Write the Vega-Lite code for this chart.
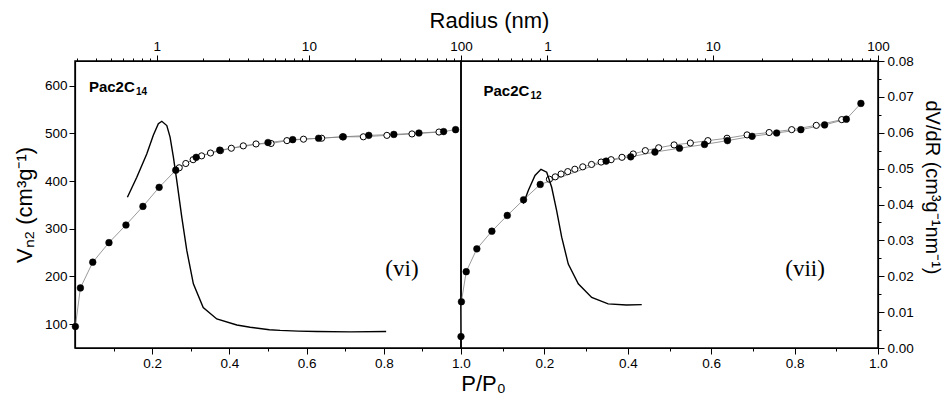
{
  "$schema": "https://vega.github.io/schema/vega-lite/v6.json",
  "background": "white",
  "padding": {"left": 12, "top": 8, "right": 2, "bottom": 2},
  "spacing": 0,
  "bounds": "flush",
  "resolve": {"scale": {"x": "independent", "y": "independent"}, "axis": {"x": "independent", "y": "independent"}},
  "datasets": {
    "iso": [
      {"panel": "L", "branch": "ads", "p": 0.001, "v": 95},
      {"panel": "L", "branch": "ads", "p": 0.014, "v": 176},
      {"panel": "L", "branch": "ads", "p": 0.046, "v": 230},
      {"panel": "L", "branch": "ads", "p": 0.088, "v": 271},
      {"panel": "L", "branch": "ads", "p": 0.132, "v": 308},
      {"panel": "L", "branch": "ads", "p": 0.176, "v": 347},
      {"panel": "L", "branch": "ads", "p": 0.218, "v": 387},
      {"panel": "L", "branch": "ads", "p": 0.261, "v": 423},
      {"panel": "L", "branch": "ads", "p": 0.314, "v": 450},
      {"panel": "L", "branch": "ads", "p": 0.375, "v": 465},
      {"panel": "L", "branch": "ads", "p": 0.500, "v": 481},
      {"panel": "L", "branch": "ads", "p": 0.564, "v": 487},
      {"panel": "L", "branch": "ads", "p": 0.631, "v": 490},
      {"panel": "L", "branch": "ads", "p": 0.695, "v": 493},
      {"panel": "L", "branch": "ads", "p": 0.761, "v": 496},
      {"panel": "L", "branch": "ads", "p": 0.826, "v": 498},
      {"panel": "L", "branch": "ads", "p": 0.891, "v": 501},
      {"panel": "L", "branch": "ads", "p": 0.955, "v": 504},
      {"panel": "L", "branch": "ads", "p": 0.986, "v": 508},
      {"panel": "L", "branch": "des", "p": 0.270, "v": 428},
      {"panel": "L", "branch": "des", "p": 0.287, "v": 437},
      {"panel": "L", "branch": "des", "p": 0.306, "v": 445},
      {"panel": "L", "branch": "des", "p": 0.328, "v": 453},
      {"panel": "L", "branch": "des", "p": 0.351, "v": 459},
      {"panel": "L", "branch": "des", "p": 0.377, "v": 464},
      {"panel": "L", "branch": "des", "p": 0.405, "v": 469},
      {"panel": "L", "branch": "des", "p": 0.436, "v": 474},
      {"panel": "L", "branch": "des", "p": 0.469, "v": 478},
      {"panel": "L", "branch": "des", "p": 0.508, "v": 479},
      {"panel": "L", "branch": "des", "p": 0.549, "v": 485},
      {"panel": "L", "branch": "des", "p": 0.592, "v": 488},
      {"panel": "L", "branch": "des", "p": 0.639, "v": 490},
      {"panel": "L", "branch": "des", "p": 0.693, "v": 493},
      {"panel": "L", "branch": "des", "p": 0.747, "v": 493},
      {"panel": "L", "branch": "des", "p": 0.808, "v": 496},
      {"panel": "L", "branch": "des", "p": 0.873, "v": 499},
      {"panel": "L", "branch": "des", "p": 0.943, "v": 503},
      {"panel": "R", "branch": "ads", "p": 0.000, "v": 74},
      {"panel": "R", "branch": "ads", "p": 0.001, "v": 147},
      {"panel": "R", "branch": "ads", "p": 0.0125, "v": 210},
      {"panel": "R", "branch": "ads", "p": 0.038, "v": 258},
      {"panel": "R", "branch": "ads", "p": 0.074, "v": 295},
      {"panel": "R", "branch": "ads", "p": 0.111, "v": 328},
      {"panel": "R", "branch": "ads", "p": 0.150, "v": 361},
      {"panel": "R", "branch": "ads", "p": 0.190, "v": 393},
      {"panel": "R", "branch": "ads", "p": 0.348, "v": 442},
      {"panel": "R", "branch": "ads", "p": 0.407, "v": 451},
      {"panel": "R", "branch": "ads", "p": 0.465, "v": 461},
      {"panel": "R", "branch": "ads", "p": 0.524, "v": 469},
      {"panel": "R", "branch": "ads", "p": 0.584, "v": 477},
      {"panel": "R", "branch": "ads", "p": 0.639, "v": 485},
      {"panel": "R", "branch": "ads", "p": 0.698, "v": 494},
      {"panel": "R", "branch": "ads", "p": 0.757, "v": 501},
      {"panel": "R", "branch": "ads", "p": 0.815, "v": 508},
      {"panel": "R", "branch": "ads", "p": 0.872, "v": 518},
      {"panel": "R", "branch": "ads", "p": 0.924, "v": 530},
      {"panel": "R", "branch": "ads", "p": 0.959, "v": 563},
      {"panel": "R", "branch": "des", "p": 0.212, "v": 404},
      {"panel": "R", "branch": "des", "p": 0.226, "v": 409},
      {"panel": "R", "branch": "des", "p": 0.240, "v": 415},
      {"panel": "R", "branch": "des", "p": 0.256, "v": 420},
      {"panel": "R", "branch": "des", "p": 0.273, "v": 425},
      {"panel": "R", "branch": "des", "p": 0.292, "v": 430},
      {"panel": "R", "branch": "des", "p": 0.313, "v": 435},
      {"panel": "R", "branch": "des", "p": 0.336, "v": 440},
      {"panel": "R", "branch": "des", "p": 0.360, "v": 445},
      {"panel": "R", "branch": "des", "p": 0.386, "v": 450},
      {"panel": "R", "branch": "des", "p": 0.413, "v": 457},
      {"panel": "R", "branch": "des", "p": 0.442, "v": 464},
      {"panel": "R", "branch": "des", "p": 0.474, "v": 470},
      {"panel": "R", "branch": "des", "p": 0.511, "v": 476},
      {"panel": "R", "branch": "des", "p": 0.550, "v": 480},
      {"panel": "R", "branch": "des", "p": 0.592, "v": 485},
      {"panel": "R", "branch": "des", "p": 0.638, "v": 490},
      {"panel": "R", "branch": "des", "p": 0.686, "v": 497},
      {"panel": "R", "branch": "des", "p": 0.739, "v": 502},
      {"panel": "R", "branch": "des", "p": 0.793, "v": 508},
      {"panel": "R", "branch": "des", "p": 0.852, "v": 517},
      {"panel": "R", "branch": "des", "p": 0.913, "v": 529}
    ],
    "psd": [
      {"panel": "L", "r": 0.641, "d": 0.0420},
      {"panel": "L", "r": 0.739, "d": 0.0476},
      {"panel": "L", "r": 0.859, "d": 0.0541},
      {"panel": "L", "r": 0.949, "d": 0.0593},
      {"panel": "L", "r": 1.024, "d": 0.0625},
      {"panel": "L", "r": 1.079, "d": 0.0632},
      {"panel": "L", "r": 1.164, "d": 0.0620},
      {"panel": "L", "r": 1.223, "d": 0.0588},
      {"panel": "L", "r": 1.286, "d": 0.0532},
      {"panel": "L", "r": 1.353, "d": 0.0467},
      {"panel": "L", "r": 1.460, "d": 0.0365},
      {"panel": "L", "r": 1.575, "d": 0.0272},
      {"panel": "L", "r": 1.740, "d": 0.0179},
      {"panel": "L", "r": 2.02, "d": 0.0113},
      {"panel": "L", "r": 2.48, "d": 0.0081},
      {"panel": "L", "r": 3.36, "d": 0.0064},
      {"panel": "L", "r": 4.11, "d": 0.0058},
      {"panel": "L", "r": 5.50, "d": 0.0051},
      {"panel": "L", "r": 6.47, "d": 0.0049},
      {"panel": "L", "r": 8.5, "d": 0.0047},
      {"panel": "L", "r": 11.3, "d": 0.0046},
      {"panel": "L", "r": 18.7, "d": 0.0045},
      {"panel": "L", "r": 32.2, "d": 0.0046},
      {"panel": "R", "r": 0.715, "d": 0.0402},
      {"panel": "R", "r": 0.766, "d": 0.0439},
      {"panel": "R", "r": 0.841, "d": 0.0481},
      {"panel": "R", "r": 0.914, "d": 0.0498},
      {"panel": "R", "r": 0.99, "d": 0.0490},
      {"panel": "R", "r": 1.061, "d": 0.0448},
      {"panel": "R", "r": 1.137, "d": 0.0383},
      {"panel": "R", "r": 1.22, "d": 0.0309},
      {"panel": "R", "r": 1.337, "d": 0.0234},
      {"panel": "R", "r": 1.537, "d": 0.0179},
      {"panel": "R", "r": 1.853, "d": 0.0141},
      {"panel": "R", "r": 2.33, "d": 0.0123},
      {"panel": "R", "r": 3.01, "d": 0.0120},
      {"panel": "R", "r": 3.72, "d": 0.0121}
    ]
  },
  "hconcat": [
    {
      "width": 386,
      "height": 287,
      "layer": [
        {
          "layer": [
            {
              "data": {"name": "iso"},
              "transform": [{"filter": "datum.panel == 'L'"}],
              "mark": {"type": "line", "color": "#808080", "strokeWidth": 0.8},
              "encoding": {
                "x": {"field": "p", "type": "quantitative", "scale": {"domain": [0, 1], "nice": false, "zero": false},
                  "axis": {"orient": "bottom", "values": [0.1, 0.2, 0.3, 0.4, 0.5, 0.6, 0.7, 0.8, 0.9, 1.0],
                    "labelExpr": "round(datum.value*10) % 2 == 0 ? format(datum.value, '.1f') : ''",
                    "tickSize": {"condition": {"test": "round(datum.value*10) % 2 == 0", "value": 6}, "value": 3},
                    "labelPadding": 2, "labelFlush": false, "labelOverlap": false, "labelBound": false,
                    "title": "P/P₀", "titleX": 408, "titleFontSize": 22, "titlePadding": 4}},
                "y": {"field": "v", "type": "quantitative", "scale": {"domain": [50, 652], "nice": false, "zero": false},
                  "axis": {"orient": "left", "values": [100, 200, 300, 400, 500, 600],
                    "format": "d", "tickSize": 6, "labelPadding": 2, "labelFlush": false, "labelOverlap": false,
                    "title": "Vₙ₂ (cm³g⁻¹)", "titleFontSize": 22, "titlePadding": 8}},
                "detail": {"field": "branch"}
              }
            },
            {
              "data": {"name": "iso"},
              "transform": [{"filter": "datum.panel == 'L' && datum.branch == 'des'"}],
              "mark": {"type": "point", "shape": "circle", "filled": true, "fill": "white", "stroke": "black", "strokeWidth": 1, "size": 38, "opacity": 1},
              "encoding": {"x": {"field": "p", "type": "quantitative"}, "y": {"field": "v", "type": "quantitative"}}
            },
            {
              "data": {"name": "iso"},
              "transform": [{"filter": "datum.panel == 'L' && datum.branch == 'ads'"}],
              "mark": {"type": "point", "shape": "circle", "filled": true, "fill": "black", "stroke": "black", "strokeWidth": 0.5, "size": 45, "opacity": 1},
              "encoding": {"x": {"field": "p", "type": "quantitative"}, "y": {"field": "v", "type": "quantitative"}}
            },
            {
              "data": {"values": [{"p": 0.036, "v": 598, "t": "Pac2C"}]},
              "mark": {"type": "text", "align": "left", "baseline": "middle", "font": "Liberation Sans", "fontWeight": "bold", "fontSize": 15, "color": "black"},
              "encoding": {"x": {"field": "p", "type": "quantitative"}, "y": {"field": "v", "type": "quantitative"}, "text": {"field": "t"}}
            },
            {
              "data": {"values": [{"p": 0.036, "v": 598, "t": "14"}]},
              "mark": {"type": "text", "align": "left", "baseline": "middle", "dx": 47, "dy": 5, "font": "Liberation Sans", "fontWeight": "bold", "fontSize": 10, "color": "black"},
              "encoding": {"x": {"field": "p", "type": "quantitative"}, "y": {"field": "v", "type": "quantitative"}, "text": {"field": "t"}}
            },
            {
              "data": {"values": [{"p": 0.847, "v": 216, "t": "(vi)"}]},
              "mark": {"type": "text", "align": "center", "baseline": "middle", "font": "Liberation Serif", "fontSize": 23, "color": "black"},
              "encoding": {"x": {"field": "p", "type": "quantitative"}, "y": {"field": "v", "type": "quantitative"}, "text": {"field": "t"}}
            }
          ]
        },
        {
          "data": {"name": "psd"},
          "transform": [{"filter": "datum.panel == 'L'"}],
          "mark": {"type": "line", "color": "black", "strokeWidth": 1.4},
          "encoding": {
            "x": {"field": "r", "type": "quantitative", "scale": {"type": "log", "domain": [0.29, 100], "nice": false},
              "axis": {"orient": "top", "values": [0.3, 0.4, 0.5, 0.6, 0.7, 0.8, 0.9, 1, 2, 3, 4, 5, 6, 7, 8, 9, 10, 20, 30, 40, 50, 60, 70, 80, 90, 100],
                "labelExpr": "(datum.value == 1 || datum.value == 10 || datum.value == 100) ? format(datum.value, 'd') : ''",
                "tickSize": {"condition": {"test": "datum.value == 1 || datum.value == 10 || datum.value == 100", "value": 6}, "value": 3},
                "labelPadding": 2, "labelFlush": false, "labelOverlap": false, "labelBound": false,
                "title": "Radius (nm)", "titleX": 414, "titleFontSize": 22, "titlePadding": 7}},
            "y": {"field": "d", "type": "quantitative", "scale": {"domain": [0, 0.08], "nice": false}, "axis": null}
          }
        }
      ],
      "resolve": {"scale": {"x": "independent", "y": "independent"}, "axis": {"x": "independent", "y": "independent"}}
    },
    {
      "width": 417,
      "height": 287,
      "layer": [
        {
          "layer": [
            {
              "data": {"name": "iso"},
              "transform": [{"filter": "datum.panel == 'R'"}],
              "mark": {"type": "line", "color": "#808080", "strokeWidth": 0.8},
              "encoding": {
                "x": {"field": "p", "type": "quantitative", "scale": {"domain": [0, 1], "nice": false, "zero": false},
                  "axis": {"orient": "bottom", "values": [0.1, 0.2, 0.3, 0.4, 0.5, 0.6, 0.7, 0.8, 0.9, 1.0],
                    "labelExpr": "round(datum.value*10) % 2 == 0 ? format(datum.value, '.1f') : ''",
                    "tickSize": {"condition": {"test": "round(datum.value*10) % 2 == 0", "value": 6}, "value": 3},
                    "labelPadding": 2, "labelFlush": false, "labelOverlap": false, "labelBound": false, "title": null}},
                "y": {"field": "v", "type": "quantitative", "scale": {"domain": [50, 652], "nice": false, "zero": false}, "axis": null},
                "detail": {"field": "branch"}
              }
            },
            {
              "data": {"name": "iso"},
              "transform": [{"filter": "datum.panel == 'R' && datum.branch == 'des'"}],
              "mark": {"type": "point", "shape": "circle", "filled": true, "fill": "white", "stroke": "black", "strokeWidth": 1, "size": 38, "opacity": 1},
              "encoding": {"x": {"field": "p", "type": "quantitative"}, "y": {"field": "v", "type": "quantitative"}}
            },
            {
              "data": {"name": "iso"},
              "transform": [{"filter": "datum.panel == 'R' && datum.branch == 'ads'"}],
              "mark": {"type": "point", "shape": "circle", "filled": true, "fill": "black", "stroke": "black", "strokeWidth": 0.5, "size": 45, "opacity": 1},
              "encoding": {"x": {"field": "p", "type": "quantitative"}, "y": {"field": "v", "type": "quantitative"}}
            },
            {
              "data": {"values": [{"p": 0.054, "v": 590, "t": "Pac2C"}]},
              "mark": {"type": "text", "align": "left", "baseline": "middle", "font": "Liberation Sans", "fontWeight": "bold", "fontSize": 15, "color": "black"},
              "encoding": {"x": {"field": "p", "type": "quantitative"}, "y": {"field": "v", "type": "quantitative"}, "text": {"field": "t"}}
            },
            {
              "data": {"values": [{"p": 0.054, "v": 590, "t": "12"}]},
              "mark": {"type": "text", "align": "left", "baseline": "middle", "dx": 47, "dy": 5, "font": "Liberation Sans", "fontWeight": "bold", "fontSize": 10, "color": "black"},
              "encoding": {"x": {"field": "p", "type": "quantitative"}, "y": {"field": "v", "type": "quantitative"}, "text": {"field": "t"}}
            },
            {
              "data": {"values": [{"p": 0.825, "v": 216, "t": "(vii)"}]},
              "mark": {"type": "text", "align": "center", "baseline": "middle", "font": "Liberation Serif", "fontSize": 23, "color": "black"},
              "encoding": {"x": {"field": "p", "type": "quantitative"}, "y": {"field": "v", "type": "quantitative"}, "text": {"field": "t"}}
            }
          ]
        },
        {
          "data": {"name": "psd"},
          "transform": [{"filter": "datum.panel == 'R'"}],
          "mark": {"type": "line", "color": "black", "strokeWidth": 1.4},
          "encoding": {
            "x": {"field": "r", "type": "quantitative", "scale": {"type": "log", "domain": [0.3, 100], "nice": false},
              "axis": {"orient": "top", "values": [0.4, 0.5, 0.6, 0.7, 0.8, 0.9, 1, 2, 3, 4, 5, 6, 7, 8, 9, 10, 20, 30, 40, 50, 60, 70, 80, 90, 100],
                "labelExpr": "(datum.value == 1 || datum.value == 10 || datum.value == 100) ? format(datum.value, 'd') : ''",
                "tickSize": {"condition": {"test": "datum.value == 1 || datum.value == 10 || datum.value == 100", "value": 6}, "value": 3},
                "labelPadding": 2, "labelFlush": false, "labelOverlap": false, "labelBound": false, "title": null}},
            "y": {"field": "d", "type": "quantitative", "scale": {"domain": [0, 0.08], "nice": false},
              "axis": {"orient": "right", "values": [0, 0.005, 0.01, 0.015, 0.02, 0.025, 0.03, 0.035, 0.04, 0.045, 0.05, 0.055, 0.06, 0.065, 0.07, 0.075, 0.08],
                "labelExpr": "abs(datum.value*100 - round(datum.value*100)) < 0.001 ? format(datum.value, '.2f') : ''",
                "tickSize": {"condition": {"test": "abs(datum.value*100 - round(datum.value*100)) < 0.001", "value": 6}, "value": 3},
                "labelPadding": 3, "labelFlush": false, "labelOverlap": false,
                "title": "dV/dR (cm³g⁻¹nm⁻¹)", "titleFontSize": 20, "titlePadding": 8, "titleY": 126}}
          }
        }
      ],
      "resolve": {"scale": {"x": "independent", "y": "independent"}, "axis": {"x": "independent", "y": "independent"}}
    }
  ],
  "config": {
    "view": {"stroke": "black", "strokeWidth": 1.5},
    "font": "Liberation Sans",
    "axis": {"labelFont": "Liberation Sans", "labelFontSize": 13.5, "labelColor": "black", "tickColor": "black", "tickWidth": 1, "domainColor": "black", "domainWidth": 1.2, "grid": false, "titleFont": "Liberation Sans", "titleFontWeight": "normal", "titleColor": "black"}
  }
}
